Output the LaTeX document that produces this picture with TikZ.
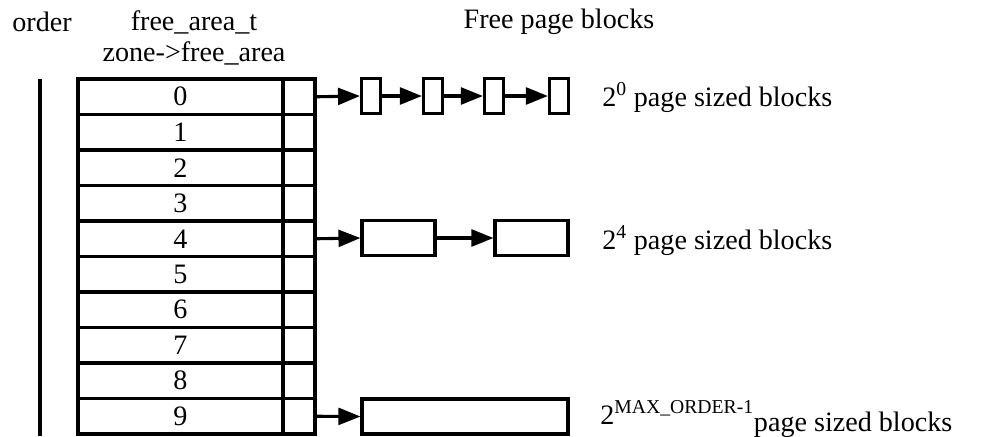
\documentclass[tikz,border=0pt]{standalone}
\usepackage{fontspec}
\setmainfont{Liberation Serif}
\usetikzlibrary{arrows.meta,positioning}
\tikzset{
    cell/.style={draw, line width=2.2pt, minimum height=35.5*0.025cm, inner sep=0pt, font=\fontsize{20}{22}\selectfont},
    numcell/.style={cell, minimum width=205*0.025cm},
    ptrcell/.style={cell, minimum width=32*0.025cm},
    blk/.style={draw, line width=2.2pt, minimum height=35*0.025cm, inner sep=0pt},
    ptrarrow/.style={line width=2.2pt, -{Triangle[length=0.55cm, width=0.42cm]}},
    lbl/.style={font=\fontsize{20}{22}\selectfont, inner sep=0pt},
}
\begin{document}
\begin{tikzpicture}[x=0.025cm, y=-0.025cm]
            \useasboundingbox (0,0) rectangle (984,436);
            % headings
            \node[lbl] (ordertxt) at (42,22) {order};
            \node[lbl] (areatxt) at (194,22) {free\_area\_t};
            \node[lbl] (zonetxt) at (194,53) {zone->free\_area};
            \node[lbl] (freetxt) at (559,22) {Free page blocks};
            % order line
            \draw[line width=2.2pt] (40,79) -- (40,436);
            % free_area table
            \foreach \i in {0,...,9}{
                \node[numcell] (num\i) at (180.5, 96.75+35.5*\i) {\i};
                \node[ptrcell] (ptr\i) at (299, 96.75+35.5*\i) {};
            }
            % order 0 blocks
            \foreach \x [count=\xi] in {371, 433, 494, 559}{
                \node[blk, minimum width=19*0.025cm] (b0\xi) at (\x, 96) {};
            }
            \draw[ptrarrow] (ptr0.east) -- (b01.west);
            \draw[ptrarrow] (b01.east) -- (b02.west);
            \draw[ptrarrow] (b02.east) -- (b03.west);
            \draw[ptrarrow] (b03.east) -- (b04.west);
            % order 4 blocks
            \node[blk, minimum width=73*0.025cm] (b41) at (398.5, 238) {};
            \node[blk, minimum width=73*0.025cm] (b42) at (531.5, 238) {};
            \draw[ptrarrow] (ptr4.east) -- (b41.west);
            \draw[ptrarrow] (b41.east) -- (b42.west);
            % max order block
            \node[blk, minimum width=206*0.025cm] (b91) at (465, 416.5) {};
            \draw[ptrarrow] (ptr9.east) -- (b91.west);
            % labels
            \node[lbl, anchor=base west] (lbl0) at (602,106) {2\textsuperscript{0} page sized blocks};
            \node[lbl, anchor=base west] (lbl4) at (602,249) {2\textsuperscript{4} page sized blocks};
            \node[lbl, anchor=base west] (lbl9) at (600,424) {2\textsuperscript{MAX\_ORDER-1}\raisebox{-0.25em}{page sized blocks}};
\end{tikzpicture}
\end{document}
